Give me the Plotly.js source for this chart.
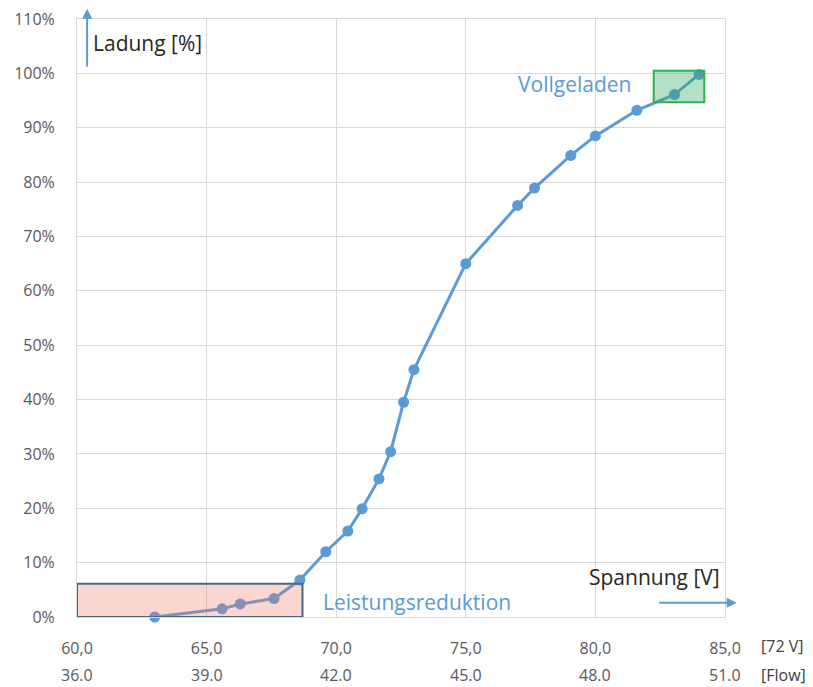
<!DOCTYPE html>
<html>
<head>
<meta charset="utf-8">
<script src="https://cdn.plot.ly/plotly-3.0.1.min.js"></script>
<style>html,body{margin:0;padding:0;background:#fff}#chart{width:813px;height:687px}</style>
</head>
<body>
<div id="chart"></div>
<script>
// Data
const voltage72 = [63.0, 65.6, 66.3, 67.6, 68.6, 69.6, 70.45, 71.0, 71.65, 72.1, 72.6, 73.0, 75.0, 77.0, 77.65, 79.05, 80.0, 81.6, 83.05, 84.0];
const chargePct = [0, 1.5, 2.4, 3.4, 6.8, 12.0, 15.8, 19.9, 25.4, 30.4, 39.5, 45.5, 65.0, 75.7, 78.9, 84.9, 88.5, 93.2, 96.1, 99.8];

const xTickVals = [60, 65, 70, 75, 80, 85];
const xTickText72 = ["60,0", "65,0", "70,0", "75,0", "80,0", "85,0"];
const xTickTextFlow = ["36.0", "39.0", "42.0", "45.0", "48.0", "51.0"];
const yTickVals = [0, 10, 20, 30, 40, 50, 60, 70, 80, 90, 100, 110];
const yTickText = ["0%", "10%", "20%", "30%", "40%", "50%", "60%", "70%", "80%", "90%", "100%", "110%"];

const BLUE = "#5b9bd5";
const GRID = "#d9d9d9";
const FONT = "Open Sans, Segoe UI, sans-serif";
const TICKFONT = {family: FONT, size: 16, color: "#595959"};
const LABELSIZE = 21;

const trace = {
  x: voltage72, y: chargePct, type: "scatter", mode: "lines+markers",
  line: {color: BLUE, width: 3},
  marker: {color: BLUE, size: 11},
  cliponaxis: false, hoverinfo: "skip"
};

// Second row of x tick labels (Flow scale), placed on the same x scale
const flowLabels = xTickVals.map((v, i) => ({
  xref: "x", yref: "paper", x: v, y: 0, yshift: -58, text: xTickTextFlow[i],
  showarrow: false, xanchor: "center", yanchor: "middle", font: TICKFONT
}));

const layout = {
  width: 813, height: 687,
  margin: {l: 77, r: 88, t: 19, b: 70},
  paper_bgcolor: "#fff", plot_bgcolor: "#fff",
  showlegend: false,
  font: {family: FONT, color: "#595959", size: 16},
  xaxis: {
    range: [60, 85], tickvals: xTickVals, ticktext: xTickText72,
    showgrid: true, gridcolor: GRID, gridwidth: 1,
    showline: true, linecolor: GRID, linewidth: 1, mirror: true,
    zeroline: false, ticks: "", ticklabelstandoff: 17, tickfont: TICKFONT
  },
  yaxis: {
    range: [0, 110], tickvals: yTickVals, ticktext: yTickText,
    showgrid: true, gridcolor: GRID, gridwidth: 1,
    showline: true, linecolor: GRID, linewidth: 1, mirror: true,
    zeroline: false, ticks: "", ticklabelstandoff: 18, tickfont: TICKFONT
  },
  shapes: [
    {type: "rect", xref: "x", yref: "y", x0: 60, x1: 68.7, y0: 0, y1: 6.1,
     fillcolor: "rgba(240,120,100,0.3)", line: {color: "#4a6889", width: 2}, layer: "above"},
    {type: "rect", xref: "x", yref: "y", x0: 82.25, x1: 84.2, y0: 94.7, y1: 100.5,
     fillcolor: "rgba(40,170,90,0.35)", line: {color: "#2eb050", width: 2}, layer: "above"}
  ],
  annotations: [
    {xref: "x", yref: "y", x: 60.55, y: 105.6, text: "Ladung [%]", showarrow: false,
     xanchor: "left", yanchor: "middle", font: {family: FONT, size: LABELSIZE, color: "#262626"}},
    {xref: "x", yref: "y", x: 76.95, y: 98.1, text: "Vollgeladen", showarrow: false,
     xanchor: "left", yanchor: "middle", font: {family: FONT, size: LABELSIZE, color: BLUE}},
    {xref: "x", yref: "y", x: 69.4, y: 2.8, text: "Leistungsreduktion", showarrow: false,
     xanchor: "left", yanchor: "middle", font: {family: FONT, size: LABELSIZE, color: BLUE}},
    {xref: "x", yref: "y", x: 84.9, y: 7.4, text: "Spannung [V]", showarrow: false,
     xanchor: "right", yanchor: "middle", font: {family: FONT, size: LABELSIZE, color: "#262626"}},
    // axis arrows
    {xref: "x", yref: "y", axref: "x", ayref: "y", x: 60.39, y: 111.9, ax: 60.39, ay: 101,
     text: "", showarrow: true, arrowhead: 2, arrowsize: 1, arrowwidth: 2, arrowcolor: BLUE, standoff: 0},
    {xref: "x", yref: "y", axref: "x", ayref: "y", x: 85.45, y: 2.6, ax: 82.4, ay: 2.6,
     text: "", showarrow: true, arrowhead: 2, arrowsize: 1, arrowwidth: 2, arrowcolor: BLUE, standoff: 0},
    // unit labels for the two tick rows
    {xref: "paper", yref: "paper", x: 1.052, y: 0, yshift: -29, text: "[72 V]", showarrow: false,
     xanchor: "left", yanchor: "middle", font: {family: FONT, size: 16, color: "#404040"}},
    {xref: "paper", yref: "paper", x: 1.052, y: 0, yshift: -58, text: "[Flow]", showarrow: false,
     xanchor: "left", yanchor: "middle", font: {family: FONT, size: 16, color: "#404040"}}
  ].concat(flowLabels)
};

Plotly.newPlot("chart", [trace], layout, {staticPlot: true, displayModeBar: false});
</script>
</body>
</html>
